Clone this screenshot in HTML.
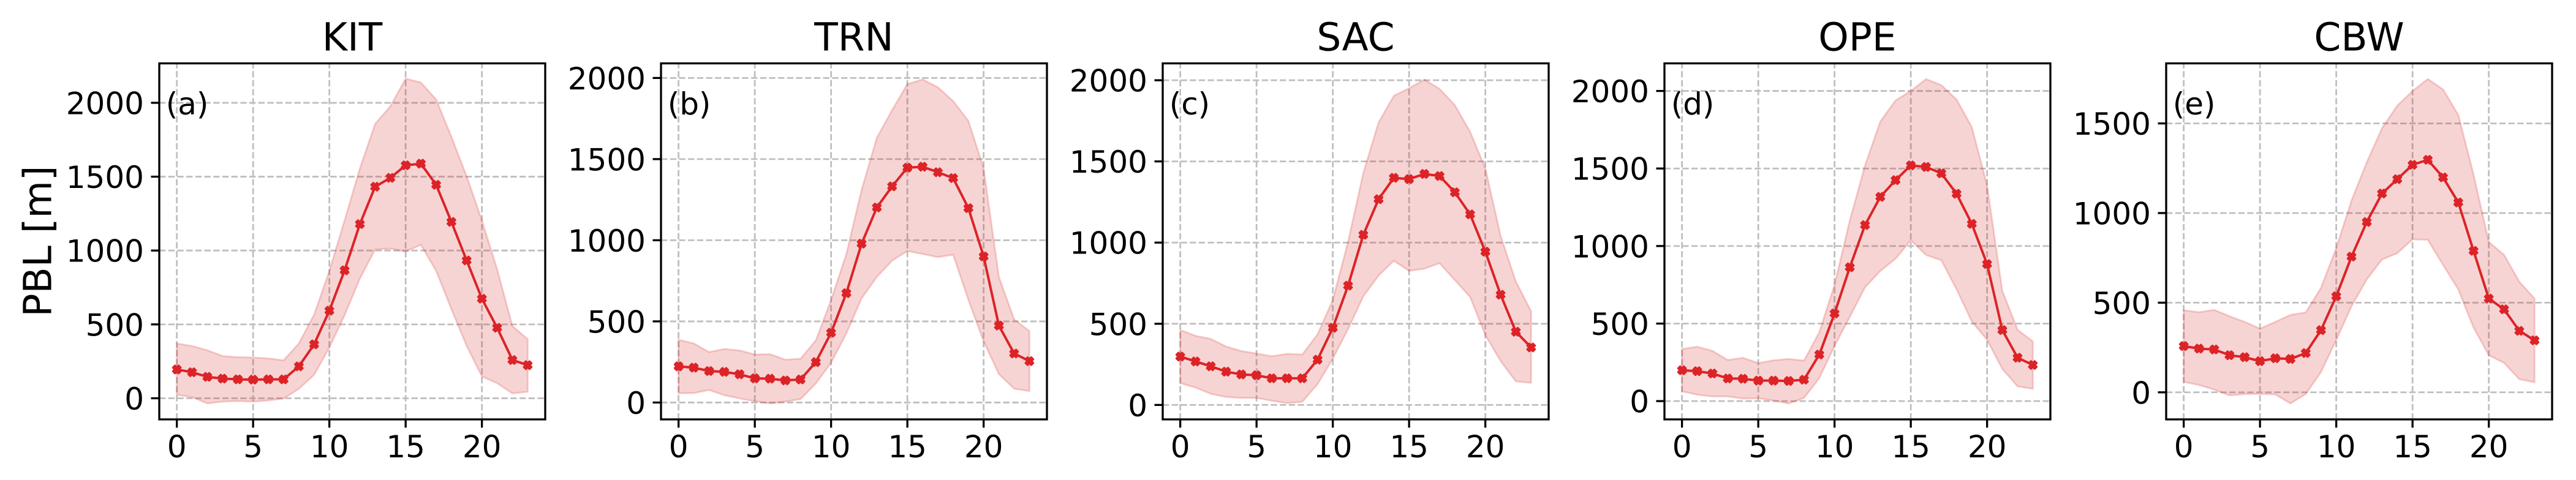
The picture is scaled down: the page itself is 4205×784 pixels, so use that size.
<!DOCTYPE html>
<html lang="en">
<head>
<meta charset="utf-8">
<title>PBL diurnal cycle</title>
<style>
html,body{margin:0;padding:0;background:#fff;width:4205px;height:784px;overflow:hidden}
svg{display:block}
text{font-family:"DejaVu Sans","Liberation Sans",sans-serif;fill:#000}
</style>
</head>
<body>
<svg id="chart" xmlns="http://www.w3.org/2000/svg" width="4205" height="784" viewBox="0 0 4205 784"></svg>
<script>
const hours = [0,1,2,3,4,5,6,7,8,9,10,11,12,13,14,15,16,17,18,19,20,21,22,23];
const xTicks = [0,5,10,15,20];
const stations = ["KIT","TRN","SAC","OPE","CBW"];
const panelLabels = ["(a)","(b)","(c)","(d)","(e)"];
const yAxisTitle = "PBL [m]";

const yTicks = [
  [0,500,1000,1500,2000],
  [0,500,1000,1500,2000],
  [0,500,1000,1500,2000],
  [0,500,1000,1500,2000],
  [0,500,1000,1500]
];
const yLimits = [
  [-143,2267],
  [-104,2090],
  [-89,2104],
  [-118,2178],
  [-151,1835]
];

const kitMean = [195,176,145,133,128,126,128,128,216,365,593,866,1179,1432,1492,1577,1588,1445,1194,933,674,477,259,224];
const kitUpper = [371,354,325,286,278,276,270,257,371,566,863,1204,1556,1857,1977,2164,2137,2023,1770,1503,1204,873,489,400];
const kitLower = [23,8,-35,-23,-19,-23,-15,-2,64,158,344,562,810,1007,1013,993,1038,862,603,354,147,102,33,44];

const trnMean = [223,215,194,189,174,149,147,136,142,249,430,674,979,1202,1332,1447,1453,1419,1383,1198,900,474,302,255];
const trnUpper = [387,364,311,330,321,296,298,264,270,383,632,915,1311,1632,1802,1962,1991,1943,1858,1736,1443,774,513,440];
const trnLower = [57,58,77,45,25,8,-6,6,21,117,245,425,642,774,874,934,915,896,911,632,377,175,85,70];

const sacMean = [298,268,238,205,188,183,164,164,164,279,475,735,1048,1267,1399,1391,1423,1410,1310,1174,944,679,451,354];
const sacUpper = [462,426,407,360,332,317,300,315,311,435,647,1005,1429,1740,1904,1951,2004,1947,1847,1683,1457,1042,760,577];
const sacLower = [134,107,68,49,43,43,26,11,19,128,285,467,669,797,888,826,839,873,769,665,430,270,145,136];

const opeMean = [199,193,178,146,144,132,132,130,138,300,565,863,1135,1317,1425,1520,1510,1469,1337,1143,884,458,280,233];
const opeUpper = [336,351,324,265,279,245,263,272,261,444,750,1165,1520,1803,1939,2000,2077,2038,1945,1767,1392,711,460,385];
const opeLower = [63,41,30,30,16,18,4,-16,20,148,355,543,734,839,918,1037,942,908,721,513,395,207,95,79];

const cbwMean = [258,244,239,207,196,174,190,186,219,347,536,757,950,1109,1189,1269,1297,1199,1059,789,523,463,343,290];
const cbwUpper = [458,447,460,425,393,355,393,432,446,583,805,1070,1283,1474,1599,1681,1748,1690,1548,1215,839,767,617,523];
const cbwLower = [58,41,15,-17,-10,-9,-12,-62,-10,113,292,480,630,741,776,853,851,711,574,361,207,164,73,56];

const meanSeries = [kitMean,trnMean,sacMean,opeMean,cbwMean];
const upperSeries = [kitUpper,trnUpper,sacUpper,opeUpper,cbwUpper];
const lowerSeries = [kitLower,trnLower,sacLower,opeLower,cbwLower];

const SVG_NS = "http://www.w3.org/2000/svg";
const root = document.getElementById("chart");

function mk(parent, tag, attrs, content) {
  const el = document.createElementNS(SVG_NS, tag);
  for (const k in attrs) el.setAttribute(k, attrs[k]);
  if (content !== undefined) el.textContent = content;
  parent.appendChild(el);
  return el;
}

const PANEL_W = 630, PANEL_STEP = 819, FIRST_LEFT = 260, TOP = 103.5, BOTTOM = 685;
const X_MIN = -1.15, X_MAX = 24.15;
const LINE = "#dc2327", BAND = "#d62728", GRID = "#bfbfbf";

function markerPoints(cx, cy) {
  const u = 3;
  const shape = [-1,-2, 0,-1, 1,-2, 2,-1, 1,0, 2,1, 1,2, 0,1, -1,2, -2,1, -1,0, -2,-1];
  const out = [];
  for (let i = 0; i < shape.length; i += 2) {
    out.push((cx + shape[i] * u).toFixed(2) + "," + (cy + shape[i + 1] * u).toFixed(2));
  }
  return out.join(" ");
}

stations.forEach(function (station, p) {
  const left = FIRST_LEFT + p * PANEL_STEP;
  const right = left + PANEL_W;
  const xScale = function (v) { return left + (v - X_MIN) / (X_MAX - X_MIN) * PANEL_W; };
  const yScale = function (v) { return BOTTOM - (v - yLimits[p][0]) / (yLimits[p][1] - yLimits[p][0]) * (BOTTOM - TOP); };

  const panel = mk(root, "g", {});
  
  

  // grid
  const grid = mk(panel, "g", {stroke: GRID, "stroke-width": 2.8, "stroke-dasharray": "10.3 4.4", fill: "none"});
  
  
  xTicks.forEach(function (t) {
    const line = mk(grid, "line", {x1: xScale(t), x2: xScale(t), y1: BOTTOM, y2: TOP});
    
    
  });
  yTicks[p].forEach(function (t) {
    const line = mk(grid, "line", {x1: left, x2: right, y1: yScale(t), y2: yScale(t)});
    
    
  });

  // band
  const upperPts = hours.map(function (h, i) { return xScale(h).toFixed(2) + "," + yScale(upperSeries[p][i]).toFixed(2); });
  const lowerPts = hours.map(function (h, i) { return xScale(h).toFixed(2) + "," + yScale(lowerSeries[p][i]).toFixed(2); }).reverse();
  const band = mk(panel, "polygon", {points: upperPts.concat(lowerPts).join(" "), fill: BAND, "fill-opacity": 0.2, stroke: BAND, "stroke-opacity": 0.2, "stroke-width": 3, "stroke-linejoin": "miter"});
  
  

  // mean line
  const meanPts = hours.map(function (h, i) { return xScale(h).toFixed(2) + "," + yScale(meanSeries[p][i]).toFixed(2); });
  const meanLine = mk(panel, "polyline", {points: meanPts.join(" "), fill: "none", stroke: LINE, "stroke-width": 4, "stroke-linejoin": "round"});
  
  

  // markers
  hours.forEach(function (h, i) {
    const m = mk(panel, "polygon", {points: markerPoints(xScale(h), yScale(meanSeries[p][i])), fill: LINE, stroke: LINE, "stroke-width": 3.6, "stroke-linejoin": "round"});
    
    
  });

  // frame
  const frame = mk(panel, "rect", {x: left, y: TOP, width: PANEL_W, height: BOTTOM - TOP, fill: "none", stroke: "#000", "stroke-width": 3.3});
  
  

  // x ticks
  xTicks.forEach(function (t) {
    const tick = mk(panel, "line", {x1: xScale(t), x2: xScale(t), y1: BOTTOM, y2: BOTTOM + 13.5, stroke: "#000", "stroke-width": 3.3});
    
    
    const label = mk(panel, "text", {x: xScale(t), y: 747, "text-anchor": "middle", "font-size": 50}, String(t));
    
    
  });

  // y ticks
  yTicks[p].forEach(function (t) {
    const tick = mk(panel, "line", {x1: left - 13.5, x2: left, y1: yScale(t), y2: yScale(t), stroke: "#000", "stroke-width": 3.3});
    
    
    const label = mk(panel, "text", {x: left - 25, y: yScale(t) + 18.5, "text-anchor": "end", "font-size": 50}, String(t));
    
    
  });

  // title and panel letter
  const title = mk(panel, "text", {x: left + PANEL_W / 2, y: 82.5, "text-anchor": "middle", "font-size": 63}, station);
  
  
  const letter = mk(panel, "text", {x: left + 10.7, y: 187, "font-size": 50}, panelLabels[p]);
  
  
});

const yTitle = mk(root, "text", {transform: "translate(83.5 394) rotate(-90)", "text-anchor": "middle", "font-size": 63}, yAxisTitle);


</script>
</body>
</html>
